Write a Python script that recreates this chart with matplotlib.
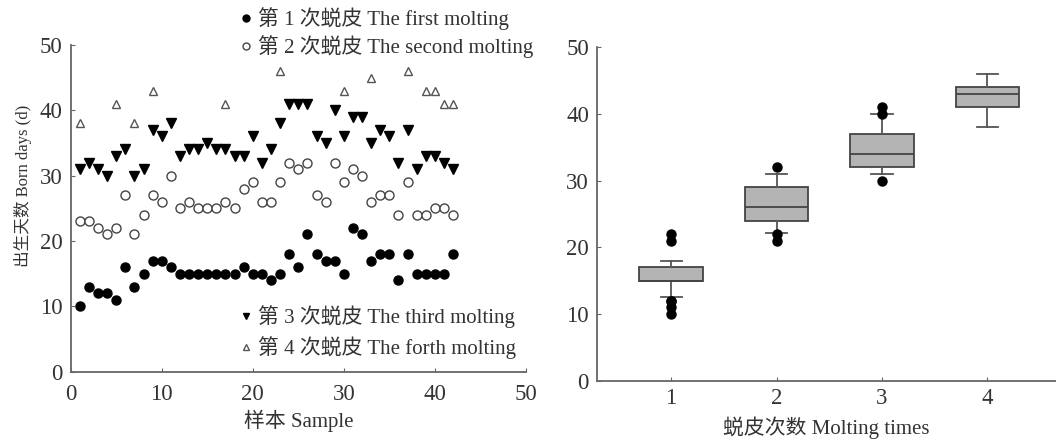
import numpy as np
import matplotlib
matplotlib.use("Agg")
import matplotlib.pyplot as plt
from matplotlib.lines import Line2D

plt.rcParams['font.family'] = ['Liberation Serif', 'Noto Sans CJK SC']
plt.rcParams['font.size'] = 15

# ---- data ----
samples = list(range(1, 43))
first_molt = [10, 13, 12, 12, 11, 16, 13, 15, 17, 17, 16, 15, 15, 15, 15, 15, 15, 15, 16, 15, 15,
              14, 15, 18, 16, 21, 18, 17, 17, 15, 22, 21, 17, 18, 18, 14, 18, 15, 15, 15, 15, 18]
second_molt = [23, 23, 22, 21, 22, 27, 21, 24, 27, 26, 30, 25, 26, 25, 25, 25, 26, 25, 28, 29, 26,
               26, 29, 32, 31, 32, 27, 26, 32, 29, 31, 30, 26, 27, 27, 24, 29, 24, 24, 25, 25, 24]
third_molt = [31, 32, 31, 30, 33, 34, 30, 31, 37, 36, 38, 33, 34, 34, 35, 34, 34, 33, 33, 36, 32,
              34, 38, 41, 41, 41, 36, 35, 40, 36, 39, 39, 35, 37, 36, 32, 37, 31, 33, 33, 32, 31]
fourth_x = [1, 5, 7, 9, 17, 23, 30, 33, 37, 39, 40, 41, 42]
fourth_molt = [38, 41, 38, 43, 41, 46, 43, 45, 46, 43, 43, 41, 41]

legend_labels = ['第 1 次蜕皮 The first molting', '第 2 次蜕皮 The second molting',
                 '第 3 次蜕皮 The third molting', '第 4 次蜕皮 The forth molting']

# box plot summary per molting
molt_times = [1, 2, 3, 4]
box_whislo = [12.5, 22.2, 31, 38]
box_q1 = [15, 24, 32, 41]
box_med = [15, 26, 34, 43]
box_q3 = [17, 29, 37, 44]
box_whishi = [18, 31, 40, 46]
box_fliers = [[10, 11, 12, 12, 21, 22], [21, 22, 32], [30, 40, 41], []]

txt_color = '#333333'
spine_color = '#666666'

fig = plt.figure(figsize=(10.56, 4.4), dpi=100)
ax1 = fig.add_axes([0.067, 0.155, 0.431, 0.743])
ax2 = fig.add_axes([0.5656, 0.135, 0.4344, 0.7575])


def style_axes(ax):
	for s in ['top', 'right']:
		ax.spines[s].set_visible(False)
	for s in ['left', 'bottom']:
		ax.spines[s].set_color(spine_color)
		ax.spines[s].set_linewidth(1.3)
	ax.tick_params(direction='in', length=3, color=spine_color, labelcolor=txt_color, labelsize=16.5)


# left: scatter of born days per sample
ax1.plot(samples, first_molt, 'o', color='black', ms=6.5, ls='none')
ax1.plot(samples, second_molt, 'o', mfc='white', mec='#444444', mew=1.0, ms=6.5, ls='none')
ax1.plot(samples, third_molt, 'v', color='black', ms=6.5, ls='none')
ax1.plot(fourth_x, fourth_molt, '^', mfc='white', mec='#555555', mew=1.0, ms=6, ls='none')
ax1.set_xlim(0, 50)
ax1.set_ylim(0, 50)
ax1.set_xticks([0, 10, 20, 30, 40, 50])
ax1.set_yticks([0, 10, 20, 30, 40, 50])
style_axes(ax1)
ax1.tick_params(axis='x', pad=9)
ax1.tick_params(axis='y', pad=6)
ax1.set_xlabel('样本 Sample', color=txt_color, fontsize=15, labelpad=3)
ax1.set_ylabel('出生天数 Born days (d)', color=txt_color, fontsize=12)
ax1.yaxis.set_label_coords(-0.085, 0.57)

h1 = Line2D([], [], marker='o', color='black', ls='none', ms=5)
h2 = Line2D([], [], marker='o', mfc='white', mec='#444444', ls='none', ms=5)
h3 = Line2D([], [], marker='v', color='black', ls='none', ms=5)
h4 = Line2D([], [], marker='^', mfc='white', mec='#555555', ls='none', ms=5)

leg_kw = dict(frameon=False, handlelength=0.5, handletextpad=0.3, borderpad=0,
              borderaxespad=0, fontsize=15, labelcolor=txt_color, loc='upper left',
              bbox_transform=fig.transFigure)
leg_top = ax1.legend([h1, h2], legend_labels[:2], labelspacing=0.25,
                     bbox_to_anchor=(241 / 1056, 1 - 7 / 440), **leg_kw)
ax1.add_artist(leg_top)
ax1.legend([h3, h4], legend_labels[2:], labelspacing=0.4,
           bbox_to_anchor=(241 / 1056, 1 - 305 / 440), **leg_kw)

# right: box plot of born days per molting
stats = []
for i in range(len(molt_times)):
	stats.append(dict(label=str(molt_times[i]), whislo=box_whislo[i], q1=box_q1[i], med=box_med[i],
	                  q3=box_q3[i], whishi=box_whishi[i], fliers=box_fliers[i]))
ax2.bxp(stats, positions=molt_times, widths=0.6, patch_artist=True, capwidths=0.2,
        boxprops=dict(facecolor='#b4b4b4', edgecolor='#444444', linewidth=1.3),
        medianprops=dict(color='#444444', linewidth=1.3),
        whiskerprops=dict(color='#555555', linewidth=1.3),
        capprops=dict(color='#555555', linewidth=1.3),
        flierprops=dict(marker='o', markerfacecolor='black', markeredgecolor='black', markersize=6.5))
ax2.set_xlim(0.3, 4.65)
ax2.set_ylim(0, 50)
ax2.set_xticks(molt_times)
ax2.set_xticklabels([str(m) for m in molt_times])
ax2.set_yticks([0, 10, 20, 30, 40, 50])
style_axes(ax2)
ax2.tick_params(axis='x', pad=5)
ax2.tick_params(axis='y', pad=6)
ax2.set_xlabel('蜕皮次数 Molting times', color=txt_color, fontsize=15, labelpad=6)

fig.savefig('out.png', dpi=100)
